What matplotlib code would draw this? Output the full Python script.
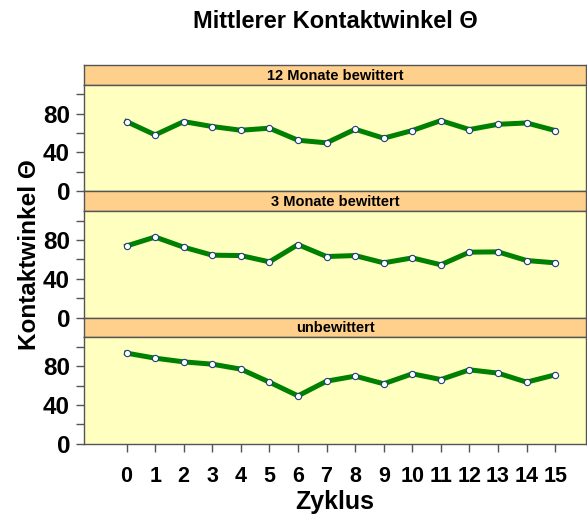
import matplotlib
matplotlib.use("Agg")
import matplotlib.pyplot as plt
from matplotlib.ticker import MultipleLocator

plt.rcParams['font.family'] = ['Liberation Sans', 'DejaVu Sans']
plt.rcParams['font.weight'] = 'bold'

# Zyklus 0..15
zyklus = list(range(16))

# Mittlerer Kontaktwinkel je Panel (von oben nach unten)
panels = ["12 Monate bewittert", "3 Monate bewittert", "unbewittert"]
w12 = [71.8, 58.1, 71.8, 66.7, 62.9, 65.0, 52.6, 49.9, 63.9, 54.7, 62.6, 72.8, 63.6, 69.0, 70.4, 62.6]
w3 = [73.8, 83.0, 72.5, 64.3, 63.9, 57.4, 75.2, 62.9, 63.9, 56.4, 61.5, 54.4, 67.4, 67.7, 58.8, 56.4]
w0 = [93.5, 88.3, 84.5, 82.1, 77.0, 63.6, 49.5, 64.6, 69.8, 61.9, 72.2, 66.3, 76.3, 72.9, 63.6, 71.1]
werte = [w12, w3, w0]

W, H = 587, 516
fig = plt.figure(figsize=(W / 100, H / 100), dpi=100)
fig.patch.set_facecolor('white')

left_px, right_px = 84, 586
top_px = 65
strip_h = 19.5
plot_h = 106.8

face = '#FFFFC0'
strip_col = '#FFD08C'
edge = '#555555'

for i, (name, vals) in enumerate(zip(panels, werte)):
    y0 = top_px + i * (strip_h + plot_h)
    # strip
    sax = fig.add_axes([left_px / W, 1 - (y0 + strip_h) / H,
                        (right_px - left_px) / W, strip_h / H])
    sax.set_facecolor(strip_col)
    sax.set_xticks([])
    sax.set_yticks([])
    for s in sax.spines.values():
        s.set_color(edge)
        s.set_linewidth(1)
    sax.text(0.5, 0.45, name, ha='center', va='center', fontsize=10.5,
             fontweight='bold', transform=sax.transAxes)
    # plot area
    ax = fig.add_axes([left_px / W, 1 - (y0 + strip_h + plot_h) / H,
                       (right_px - left_px) / W, plot_h / H])
    ax.set_facecolor(face)
    ax.plot(zyklus, vals, color='#008000', lw=3.6, zorder=2)
    ax.plot(zyklus, vals, ls='none', marker='o', ms=4.5, mfc='white',
            mec='#1F3F7F', mew=0.8, zorder=3)
    ax.set_xlim(-1.49, 16.08)
    ax.set_ylim(0, 110)
    ax.yaxis.set_major_locator(MultipleLocator(40))
    ax.yaxis.set_minor_locator(MultipleLocator(20))
    ax.tick_params(axis='y', which='both', length=6, width=1, color=edge,
                   labelsize=17.5, pad=4)
    for lab in ax.get_yticklabels():
        lab.set_fontweight('bold')
    for s in ax.spines.values():
        s.set_color(edge)
        s.set_linewidth(1)
    if i < 2:
        ax.set_xticks([])
    else:
        ax.set_xticks(zyklus)
        ax.set_xticklabels([str(z) for z in zyklus], fontsize=15.5,
                           fontweight='bold')
        ax.tick_params(axis='x', length=6, width=1, color=edge, pad=10)
        ax.set_xlabel('Zyklus', fontsize=18, fontweight='bold', labelpad=2)

fig.text(335 / W, 1 - 22 / H, 'Mittlerer Kontaktwinkel Θ', ha='center',
         va='center', fontsize=17, fontweight='bold')
fig.text(30 / W, 1 - 255 / H, 'Kontaktwinkel Θ', ha='center', va='center',
         rotation=90, fontsize=17.5, fontweight='bold')

fig.savefig('out.png', dpi=100)
